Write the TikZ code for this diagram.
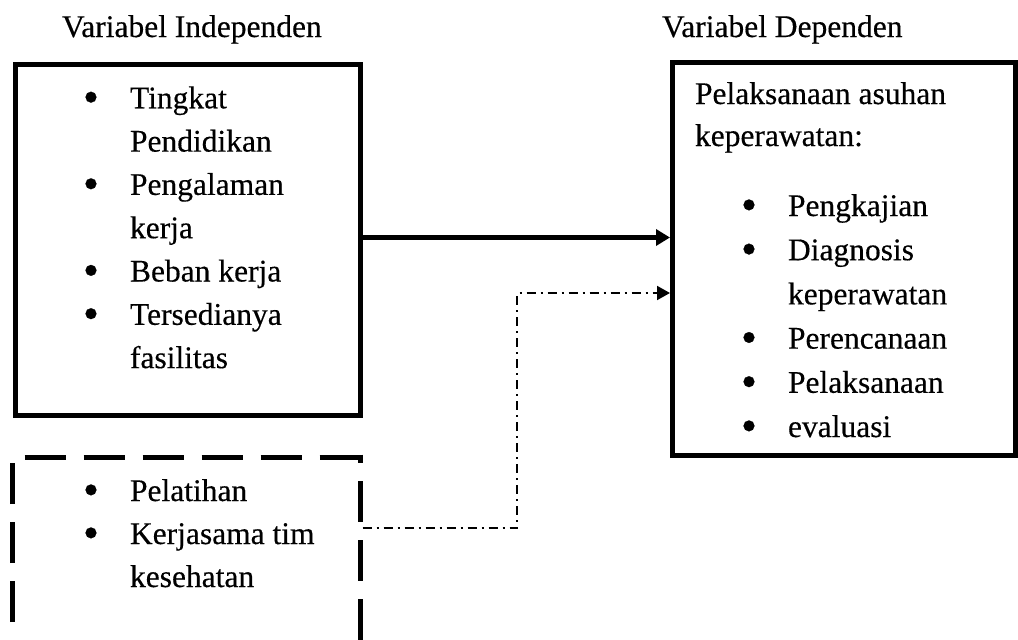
\documentclass[tikz,border=0pt]{standalone}
\usepackage{fontspec}
\setmainfont{Liberation Serif}[FakeBold=0.35]
\usetikzlibrary{arrows.meta}
\newcommand\bul{\makebox[47pt][l]{\raisebox{-4pt}{\scalebox{1.45}{\textbullet}}}}
\newcommand\bulsp{\hspace*{47pt}}
\newcommand\listbox[2]{\parbox[t]{300pt}{\fontsize{31.5}{#1}\selectfont #2}}
\begin{document}
\begin{tikzpicture}[x=1pt,y=-1pt,
  txt/.style={font=\fontsize{31.5}{43}\selectfont, inner sep=0pt, outer sep=0pt, anchor=base west},
  solidbox/.style={draw, line width=5pt, inner sep=0pt},
  dashoutline/.style={line width=5pt, dash pattern=on 41pt off 18pt},
  dashright/.style={line width=5pt, dash pattern=on 8.5pt off 18pt on 41pt off 18pt on 41pt off 18pt on 41pt off 18pt on 41pt off 18pt},
  mainarrow/.style={line width=5pt, -{Triangle[length=14pt,width=16pt]}},
  dasharrow/.style={line width=2pt, dash pattern=on 9pt off 5pt on 2pt off 5pt, -{Triangle[length=13pt,width=14pt]}}]
\useasboundingbox (0,0) rectangle (1018,640);
\clip (0,0) rectangle (1018,640);
\fill[white] (0,0) rectangle (1018,640);

% headers
\node[txt] (hind) at (62,37) {Variabel Independen};
\node[txt] (hdep) at (662,37) {Variabel Dependen};

% boxes
\node[solidbox, minimum width=345.5pt, minimum height=350.5pt] (indep) at (187.75,239.75) {};
\node[solidbox, minimum width=343pt, minimum height=393pt] (dep) at (844,259) {};
\node[inner sep=0pt, outer sep=0pt, minimum width=347.5pt, minimum height=224pt] (supp) at (186.25,569) {};
\draw[dashoutline] (supp.south west) -- (supp.north west) -- (supp.north east);
\draw[dashright] ([yshift=2.5pt]supp.north east) -- (supp.south east);

% texts
\node[txt] (lind) at (83,108.3) {\listbox{43.3pt}{\bul Tingkat\\ \bulsp Pendidikan\\ \bul Pengalaman\\ \bulsp kerja\\ \bul Beban kerja\\ \bul Tersedianya\\ \bulsp fasilitas}};
\node[txt] (tdep) at (695,104) {\listbox{42pt}{Pelaksanaan asuhan\\ keperawatan:}};
\node[txt] (ldep) at (741,216) {\listbox{44.2pt}{\bul Pengkajian\\ \bul Diagnosis\\ \bulsp keperawatan\\ \bul Perencanaan\\ \bul Pelaksanaan\\ \bul evaluasi}};
\node[txt] (lsupp) at (83,501) {\listbox{43pt}{\bul Pelatihan\\ \bul Kerjasama tim\\ \bulsp kesehatan}};

% connectors
\draw[mainarrow] ([yshift=2.25pt]indep.east) -- ([yshift=2.25pt]indep.east -| dep.west);
\coordinate (bend) at (517,293);
\draw[dasharrow] ([xshift=2.5pt,yshift=-71pt]supp.north east) -| (bend) -- (bend -| dep.west);
\end{tikzpicture}
\end{document}
